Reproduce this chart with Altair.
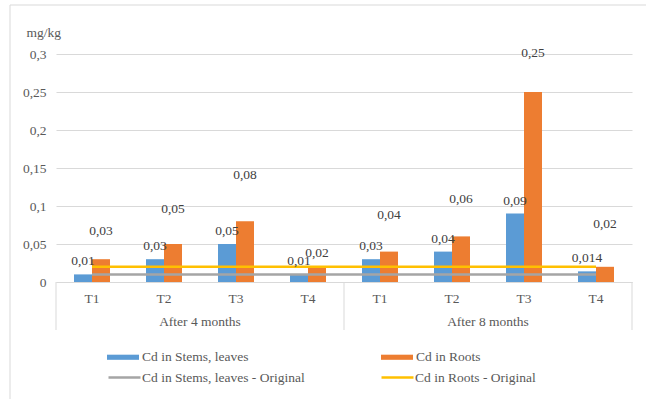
import altair as alt
import pandas as pd

# Categories
groups = ["After 4 months", "After 8 months"]
treatments = ["T1", "T2", "T3", "T4"]
bar_series = ["Cd in Stems, leaves", "Cd in Roots"]
line_series = ["Cd in Stems, leaves - Original", "Cd in Roots - Original"]

# Cd content (mg/kg), ordered T1..T4 after 4 months, then T1..T4 after 8 months
stems = [0.01, 0.03, 0.05, 0.01, 0.03, 0.04, 0.09, 0.014]
roots = [0.03, 0.05, 0.08, 0.02, 0.04, 0.06, 0.25, 0.02]
stems_original = [0.01, 0.01, 0.01, 0.01, 0.01, 0.01, 0.01, 0.01]
roots_original = [0.02, 0.02, 0.02, 0.02, 0.02, 0.02, 0.02, 0.02]

y_ticks = [0, 0.05, 0.1, 0.15, 0.2, 0.25, 0.3]

# Pixel lift of each value label above its bar
stem_label_lift = [13, 13, 13, 13, 13, 13, 13, 13]
root_label_lift = [28, 35, 46, 14, 37, 37, 39, 43]

FONT = "'Liberation Serif', 'Times New Roman', serif"
FS = 13.5
GRID = "#D9D9D9"
TXT = "#595959"
LABEL = "#404040"
BLUE, ORANGE, GRAY, YELLOW = "#5B9BD5", "#ED7D31", "#A5A5A5", "#FFC000"

PLOT_W, PLOT_H = 576, 228
Y_MAX = 0.3
PX_PER_UNIT = PLOT_H / Y_MAX

slots = [f"{g}|{t}" for g in groups for t in treatments]


def fmt(v):
    return f"{v:g}".replace(".", ",")


bar_rows = []
for i, s in enumerate(slots):
    bar_rows.append({"slot": s, "series": bar_series[0], "value": stems[i],
                     "label": fmt(stems[i]), "lift": stem_label_lift[i]})
    bar_rows.append({"slot": s, "series": bar_series[1], "value": roots[i],
                     "label": fmt(roots[i]), "lift": root_label_lift[i]})
bar_df = pd.DataFrame(bar_rows)

line_rows = []
for i, s in enumerate(slots):
    line_rows.append({"slot": s, "series": line_series[0], "value": stems_original[i]})
    line_rows.append({"slot": s, "series": line_series[1], "value": roots_original[i]})
line_df = pd.DataFrame(line_rows)

x_scale = alt.Scale(domain=slots, paddingInner=0, paddingOuter=0)
off_scale = alt.Scale(domain=bar_series, paddingInner=0, paddingOuter=1)
y_scale = alt.Scale(domain=[0, Y_MAX], nice=False)

x_axis = alt.Axis(
    title=None,
    labelExpr="split(datum.value, '|')[1]",
    labelAngle=0,
    ticks=False,
    tickSize=0,
    grid=False,
    domainColor=GRID,
    domainWidth=1,
    labelFont=FONT,
    labelFontSize=FS,
    labelColor=TXT,
    labelPadding=9,
)
y_axis = alt.Axis(
    values=y_ticks,
    labelExpr="replace(format(datum.value, '.2~f'), '.', ',')",
    grid=True,
    gridColor=GRID,
    gridWidth=1,
    domain=False,
    ticks=False,
    labelPadding=10,
    labelFont=FONT,
    labelFontSize=FS,
    labelColor=TXT,
    title="mg/kg",
    titleAngle=0,
    titleAlign="left",
    titleBaseline="middle",
    titleX=-30,
    titleY=-22,
    titleFont=FONT,
    titleFontSize=FS,
    titleFontWeight="normal",
    titleColor=TXT,
)

X = alt.X("slot:N", scale=x_scale, axis=x_axis)
Y = alt.Y("value:Q", scale=y_scale, axis=y_axis)
XO = alt.XOffset("series:N", scale=off_scale)

# Outer chart frame
frame = alt.Chart(pd.DataFrame({"k": [0]})).mark_rect(
    fillOpacity=0, stroke=GRID, strokeWidth=1
).encode(x=alt.value(-46), x2=alt.value(640), y=alt.value(-49), y2=alt.value(400))

bars = alt.Chart(bar_df).mark_bar().encode(
    x=X,
    xOffset=XO,
    y=Y,
    color=alt.Color(
        "series:N",
        scale=alt.Scale(domain=bar_series, range=[BLUE, ORANGE]),
        legend=alt.Legend(
            title=None, orient="none", legendX=51, legendY=287,
            direction="horizontal",
            symbolType="M-1,-0.16L1,-0.16L1,0.16L-1,0.16Z",
            symbolSize=1024, symbolStrokeWidth=0,
            labelFont=FONT, labelFontSize=FS, labelColor=TXT,
            labelOffset=3, columnPadding=132, padding=0, labelLimit=400,
        ),
    ),
)

lines = alt.Chart(line_df).mark_line(strokeWidth=2.5).encode(
    x=X,
    y=Y,
    stroke=alt.Stroke(
        "series:N",
        scale=alt.Scale(domain=line_series, range=[GRAY, YELLOW]),
        legend=alt.Legend(
            title=None, orient="none", legendX=51, legendY=306,
            direction="horizontal",
            symbolType="stroke", symbolSize=1024, symbolStrokeWidth=2.5,
            labelFont=FONT, labelFontSize=FS, labelColor=TXT,
            labelOffset=0, columnPadding=71, padding=0, labelLimit=400,
        ),
    ),
)

# Value labels, lifted above the top of each bar
labels = alt.Chart(bar_df).transform_calculate(
    label_y=f"datum.value + datum.lift / {PX_PER_UNIT}"
).mark_text(
    font=FONT, fontSize=FS, color=LABEL, baseline="middle"
).encode(
    x=X,
    xOffset=XO,
    y=alt.Y("label_y:Q", scale=y_scale, axis=y_axis),
    text="label:N",
)

# Group captions centred under each block of four treatments
group_df = pd.DataFrame({"slot": [slots[1], slots[5]], "group": groups})
group_text = alt.Chart(group_df).mark_text(
    font=FONT, fontSize=FS, color=TXT, baseline="middle"
).encode(
    x=alt.X("slot:N", bandPosition=1, scale=x_scale, axis=x_axis),
    y=alt.value(268),
    text="group:N",
)

# Vertical dividers of the category axis
start_df = pd.DataFrame({"slot": [slots[0], slots[4]]})
end_df = pd.DataFrame({"slot": [slots[-1]]})
sep_start = alt.Chart(start_df).mark_rule(color=GRID, strokeWidth=1).encode(
    x=alt.X("slot:N", bandPosition=0, scale=x_scale, axis=x_axis),
    y=alt.value(228),
    y2=alt.value(276),
)
sep_end = alt.Chart(end_df).mark_rule(color=GRID, strokeWidth=1).encode(
    x=alt.X("slot:N", bandPosition=1, scale=x_scale, axis=x_axis),
    y=alt.value(228),
    y2=alt.value(276),
)

chart = alt.layer(
    frame, bars, lines, labels, group_text, sep_start, sep_end
).properties(
    width=PLOT_W,
    height=PLOT_H,
    autosize=alt.AutoSizeParams(type="none"),
    padding={"left": 56, "top": 54, "right": 14, "bottom": 117},
    background="white",
).configure_view(strokeWidth=0)

chart.save("out.html", embed_options={"renderer": "svg", "actions": False})
